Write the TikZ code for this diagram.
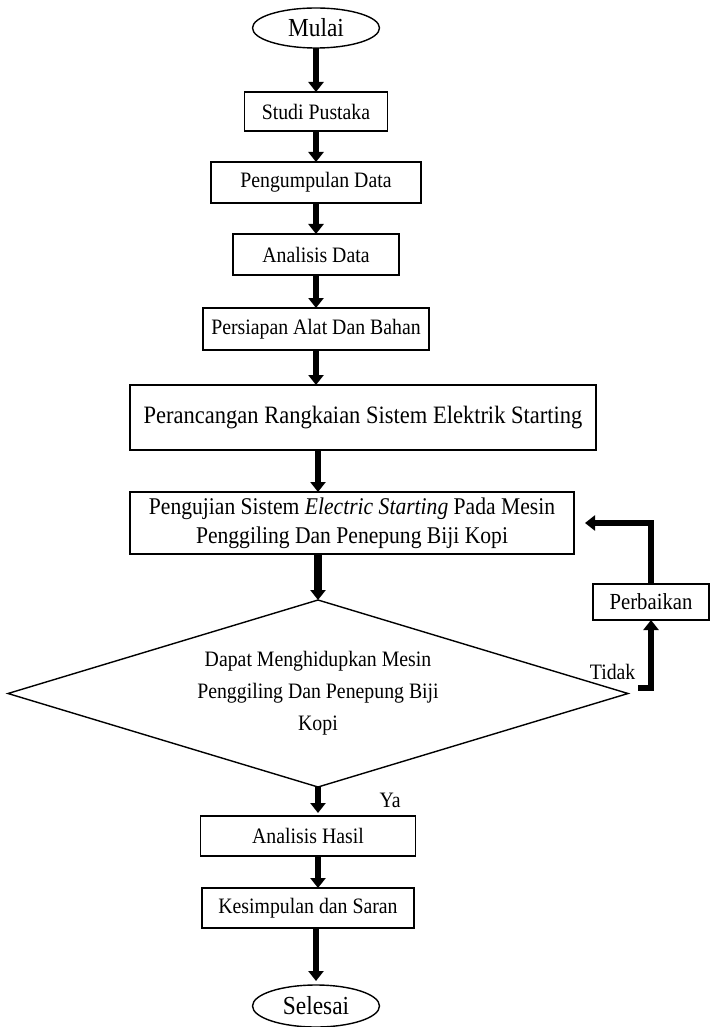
\documentclass[tikz,border=0pt]{standalone}
\usepackage{fontspec}
\setmainfont{Liberation Serif}[FakeStretch=0.9]
\usetikzlibrary{shapes.geometric}
\usetikzlibrary{positioning,arrows.meta}

\begin{document}
\begin{tikzpicture}[
    every node/.style={font=\fontsize{11pt}{14.5pt}\selectfont, text=black},
    terminal/.style={draw, ellipse, line width=0.7pt, minimum width=63.5pt, minimum height=20pt, inner sep=0pt, outer sep=0pt, font=\fontsize{13pt}{16pt}\selectfont},
    proses/.style={draw, rectangle, line width=0.7pt, minimum height=20pt, inner sep=0pt, outer sep=0pt, align=center},
    keputusan/.style={draw, diamond, aspect=3.3, line width=0.7pt, minimum width=310pt, minimum height=93.5pt, inner sep=0pt, outer sep=0pt, align=center, font=\fontsize{11pt}{16pt}\selectfont},
    alir/.style={line width=3pt, -{Triangle[length=5pt,width=7.5pt]}},
    node distance=15.5pt
    ]
    \useasboundingbox (0,0) rectangle (354.5pt,-513.5pt);
    \coordinate (sumbu) at (159pt,0pt);

    %% Tahap awal
    \node[terminal](mulai) at (158pt,-14pt){Mulai};
    \node[proses, minimum width=71.5pt, minimum height=19.5pt](studi)[below=22pt of mulai]{Studi Pustaka};
    \node[proses, minimum width=105pt, minimum height=20.5pt](kumpul)[below=of studi]{Pengumpulan Data};
    \node[proses, minimum width=83pt, minimum height=20.5pt](anadata)[below=of kumpul]{Analisis Data};
    \node[proses, minimum width=113pt, minimum height=21pt](persiapan)[below=16.5pt of anadata]{Persiapan Alat Dan Bahan};
    \node[proses, minimum width=233pt, minimum height=32.5pt, font=\fontsize{12.5pt}{16pt}\selectfont](rancang)[below=17.5pt of persiapan, xshift=23.5pt]{Perancangan Rangkaian Sistem Elektrik Starting};

    %% Pengujian dan keputusan
    \node[proses, minimum width=222pt, minimum height=31pt, font=\fontsize{12pt}{14.5pt}\selectfont](uji)[below=21pt of rancang, xshift=-5.5pt]{Pengujian Sistem \textit{Electric Starting} Pada Mesin\\Penggiling Dan Penepung Biji Kopi};
    \node[keputusan](dec)[below=23pt of uji.south -| sumbu]{Dapat Menghidupkan Mesin\\Penggiling Dan Penepung Biji\\Kopi};
    \node[proses, minimum width=58pt, minimum height=18pt, font=\fontsize{11.5pt}{14pt}\selectfont](perbaikan) at (325.5pt,-301pt){Perbaikan};

    %% Tahap akhir
    \node[proses, minimum width=107.5pt](hasil)[below=14.5pt of dec, xshift=-5pt]{Analisis Hasil};
    \node[proses, minimum width=106pt](simpulan)[below=16pt of hasil]{Kesimpulan dan Saran};
    \node[terminal, minimum height=21pt](selesai)[below=28.5pt of simpulan.south -| mulai]{Selesai};

    %% Alur
    \draw[alir] (mulai) -- (mulai |- studi.north);
    \draw[alir] (studi.south -| mulai) -- (mulai |- kumpul.north);
    \draw[alir] (kumpul.south -| mulai) -- (mulai |- anadata.north);
    \draw[alir] (anadata.south -| mulai) -- (mulai |- persiapan.north);
    \draw[alir] (persiapan.south -| mulai) -- (mulai |- rancang.north);
    \draw[alir] (rancang.south -| sumbu) -- (sumbu |- uji.north);
    \draw[alir, line width=4pt] (uji.south -| sumbu) -- (dec);
    \draw[alir, shorten >=1.5pt] (dec) -- node[pos=0.45, right=26pt](lblya){Ya} (sumbu |- hasil.north);
    \draw[alir] (hasil.south -| sumbu) -- (sumbu |- simpulan.north);
    \draw[alir, shorten >=2pt] (simpulan.south -| mulai) -- (selesai);

    %% Umpan balik perbaikan
    \coordinate (tdk) at ([shift={(5pt,2.75pt)}]dec.east);
    \draw[alir] (tdk) -| node[pos=0.615, left=3pt](lbltidak){Tidak} (perbaikan.south);
    \draw[alir, shorten >=5.5pt] (perbaikan.north) |- (uji.east);
\end{tikzpicture}
\end{document}
